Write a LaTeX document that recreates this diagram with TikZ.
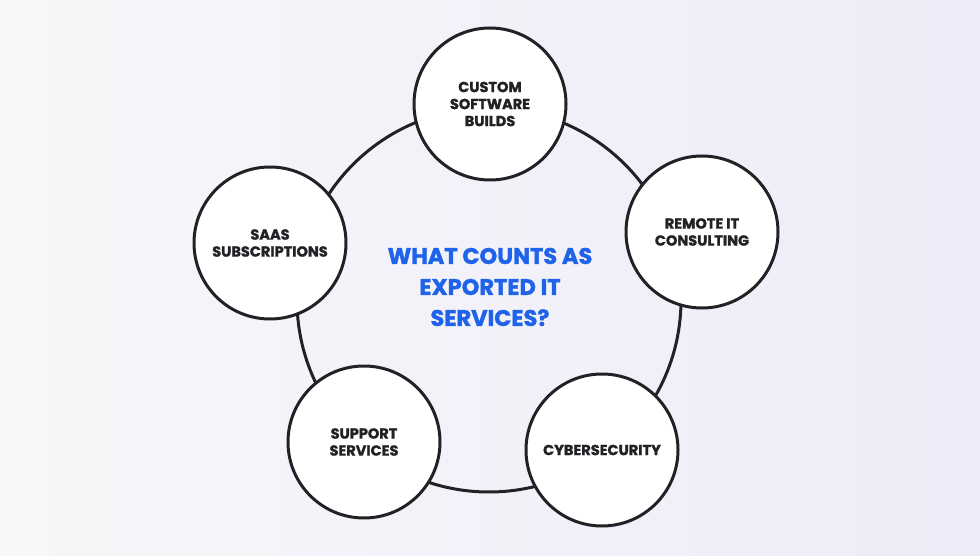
\documentclass[tikz,border=0pt]{standalone}
\usepackage{fontspec}
\setmainfont[BoldFeatures={FakeBold=1.5}]{Poppins}
\definecolor{bgA}{HTML}{F7F7F9}
\definecolor{bgB}{HTML}{EEEBF8}
\definecolor{ink}{HTML}{222226}
\definecolor{blu}{HTML}{1E63E9}
\begin{document}
\begin{tikzpicture}[x=1pt,y=-1pt,
  item/.style={circle,draw=ink,line width=3pt,fill=white,minimum size=152pt,inner sep=0pt,align=center,font=\bfseries\fontsize{14.5}{17}\selectfont,text=ink}]
\useasboundingbox (0,0) rectangle (980,556);
\shade[left color=bgA,right color=bgB] (0,0) rectangle (980,556);
\node[circle,draw=ink,line width=3pt,minimum size=384pt] (ring) at (489,300) {};
\node[item] (top) at (490,104) {CUSTOM\\SOFTWARE\\BUILDS};
\node[item] (right) at (702,232) {REMOTE IT\\CONSULTING};
\node[item] (br) at (602,450) {CYBERSECURITY};
\node[item] (bl) at (364,442) {SUPPORT\\SERVICES};
\node[item] (left) at (270,243) {SAAS\\SUBSCRIPTIONS};
\node[align=center,text=blu,font=\bfseries\fontsize{22.5}{31}\selectfont] (title) at (490,287) {WHAT COUNTS AS\\EXPORTED IT\\SERVICES?};
\end{tikzpicture}
\end{document}
